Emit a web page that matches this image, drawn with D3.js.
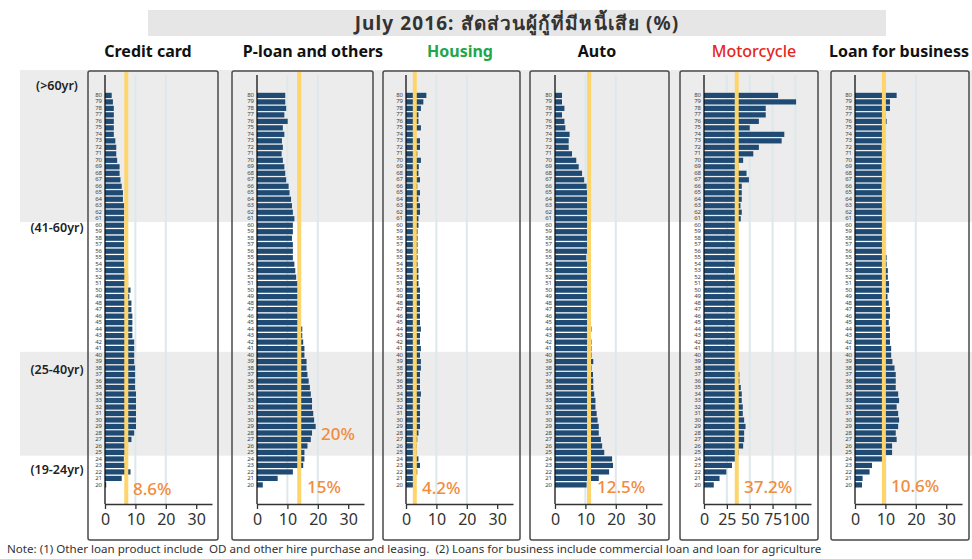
<!DOCTYPE html>
<html>
<head>
<meta charset="utf-8">
<script src="https://cdn.jsdelivr.net/npm/d3@7"></script>
<style>
  body { margin: 0; background: #fff; }
  svg { display: block; font-family: "Noto Sans", "DejaVu Sans", sans-serif; }
</style>
</head>
<body>
<svg id="visframe" width="972" height="559"></svg>
<script>
// ages from oldest (top) to youngest (bottom)
var ages = d3.range(80, 19, -1);

// % of borrowers with NPL by age (age 80 -> 20)
var creditCard = [2.2,2.6,2.9,2.9,2.9,2.9,2.9,3.4,3.7,3.7,4.0,
    4.8,4.8,5.1,5.5,5.9,5.9,6.3,6.3,6.3,6.3,
    6.3,6.3,6.3,6.3,6.3,6.3,6.6,7.6,7.6,8.4,
    8.0,8.7,8.7,9.0,9.0,9.0,9.0,9.6,9.6,9.6,
    9.6,9.9,9.9,9.9,9.9,10.2,10.2,10.2,10.2,10.2,
    10.2,9.6,8.7,6.6,6.6,6.2,6.6,8.4,5.5,0.4];
var pLoan = [9.3,9.3,9.6,9.0,10.1,8.5,9.0,8.2,8.5,8.1,8.5,
    9.0,9.3,9.6,10.4,10.7,11.2,11.5,11.8,12.3,11.8,
    11.8,11.5,11.8,11.8,11.8,12.3,12.6,12.9,13.4,13.5,
    13.5,13.5,13.5,13.5,13.5,14.9,14.9,15.2,15.6,15.6,
    16.3,16.3,16.6,17.0,17.4,17.7,18.1,18.1,18.5,18.8,
    19.3,18.1,17.7,16.6,15.6,15.6,15.2,11.8,6.8,1.9];
var housing = [6.7,5.7,4.9,4.1,4.1,4.9,3.3,4.6,4.6,3.7,4.9,
    4.2,4.1,4.6,3.7,4.6,4.1,4.6,4.6,4.1,4.1,
    3.8,3.8,3.8,3.8,3.8,3.8,4.1,4.1,4.1,4.6,
    4.6,4.6,4.6,4.6,4.6,4.9,4.6,4.6,4.9,4.6,
    4.9,4.9,4.6,4.6,4.6,4.9,4.6,4.6,4.6,4.6,
    4.6,4.1,3.7,3.5,3.5,4.1,4.6,3.7,2.8,2.4];
var auto = [2.3,2.3,3.1,2.3,3.1,3.4,4.8,4.5,4.5,5.6,7.0,
    7.8,8.9,9.6,10.4,10.7,10.7,10.7,10.7,10.7,10.7,
    10.7,10.7,10.7,10.7,10.3,10.7,10.7,10.7,10.7,10.7,
    10.7,10.7,10.7,10.7,10.7,12.0,11.6,12.0,12.0,12.0,
    12.6,12.0,12.5,12.6,12.6,12.9,13.3,13.3,13.7,14.0,
    14.4,14.4,15.1,15.5,16.2,18.8,19.1,17.8,14.4,10.4];
var motorcycle = [81.0,100.7,67.5,67.5,60.0,50.0,87.8,84.9,60.0,53.9,42.8,
    37.6,46.5,49.1,41.3,41.3,41.3,39.9,41.3,40.2,34.3,
    34.3,34.3,34.3,34.3,34.3,34.3,32.8,34.3,34.3,34.3,
    34.3,34.3,34.3,34.3,34.3,34.3,34.3,34.3,34.3,34.3,
    35.0,35.0,38.7,38.7,40.2,41.3,41.3,42.4,42.4,43.9,
    45.4,43.9,43.9,42.8,38.0,35.0,30.6,24.4,17.0,10.7];
var business = [13.7,11.5,11.5,10.0,10.4,8.9,8.9,8.9,8.7,8.9,8.9,
    8.7,8.9,8.9,8.7,8.9,8.9,8.9,8.9,8.9,9.1,
    9.1,9.1,9.1,9.1,10.4,10.4,10.8,10.8,11.2,11.2,
    10.7,11.1,11.5,11.5,11.1,11.5,11.5,11.5,11.9,11.9,
    12.3,13.0,13.4,13.4,13.4,14.2,14.5,13.7,14.2,14.5,
    14.2,13.4,13.7,12.2,12.2,9.2,5.6,4.8,2.5,2.3];

var panelTitles = ["Credit card", "P-loan and others", "Housing", "Auto", "Motorcycle", "Loan for business"];
var panelSeries = [creditCard, pLoan, housing, auto, motorcycle, business];
var avgLine = [7.0, 13.9, 2.9, 11.2, 35.8, 9.5];       // yellow average line
var annotations = [["8.6%"], ["20%", "15%"], ["4.2%"], ["12.5%"], ["37.2%"], ["10.6%"]];
var tickValues = [[0,10,20,30],[0,10,20,30],[0,10,20,30],[0,10,20,30],[0,25,50,75,100],[0,10,20,30]];
var gridValues = [[10,20],[10,20],[10,20],[10,20],[25,50,75,100],[10,20]];
var xMax = [35.2, 35.2, 35.2, 35.2, 117, 35.2];

var ageGroups = ["(>60yr)", "(41-60yr)", "(25-40yr)", "(19-24yr)"];
var groupBounds = [[80, 61], [60, 41], [40, 25], [24, 20]];

var noteText = "Note: (1) Other loan product include  OD and other hire purchase and leasing.  (2) Loans for business include commercial loan and loan for agriculture";
var titleText = "July 2016: สัดส่วนผู้กู้ที่มีหนี้เสีย (%)";

// layout
var boxLeft = [88, 232, 383, 530, 680, 831];
var boxWidth = [130, 141, 137, 139, 138, 138];
var axisOffset = [17, 25, 23, 25, 24, 24];
var headerX = [148, 313, 460, 597, 754, 899];
var axisW = 107;
var boxTop = 71, boxBottom = 540;
var axisTop = 75, axisY = 504;
var titleColors = ["#111", "#111", "#21a64a", "#111", "#e8251d", "#111"];
var titleWeights = [700, 700, 700, 700, 500, 700];
var annColor = "#f28b3c";
var annPos = [[[133, 495]], [[321, 440], [307, 493]], [[422, 494]], [[597, 493]], [[744, 493]], [[891, 492]]];

var svg = d3.select("#visframe");

var yScale = d3.scaleBand()
    .domain(ages)
    .range([92.8, 487.5])
    .paddingInner(0.2);
var step = yScale.step();

// gray age bands across the page
groupBounds.forEach(function(b, i){
    if (i % 2 == 1) return;
    var y0 = i == 0 ? 70 : yScale(b[0]) - step*0.1;
    var y1 = yScale(b[1]) + yScale.bandwidth() + step*0.1;
    svg.append("rect")
        .attr("x", 20).attr("y", y0)
        .attr("width", 952).attr("height", y1 - y0)
        .attr("fill", "#ececec");
});

var groupLabelY = [87, 229, 371, 471];
ageGroups.forEach(function(t, i){
    svg.append("text")
        .attr("x", 57).attr("y", groupLabelY[i])
        .attr("text-anchor", "middle")
        .attr("dominant-baseline", "middle")
        .attr("font-size", 12.5).attr("font-weight", 600)
        .attr("fill", "#222")
        .text(t);
});

// title
svg.append("rect")
    .attr("x", 148).attr("y", 10)
    .attr("width", 738).attr("height", 26)
    .attr("fill", "#e6e6e6");
svg.append("text")
    .attr("x", 517).attr("y", 30)
    .attr("text-anchor", "middle")
    .attr("font-size", 19).attr("font-weight", 700)
    .attr("letter-spacing", 1.1)
    .attr("fill", "#333")
    .text(titleText);

panelSeries.forEach(function(values, p){
    var x0 = boxLeft[p] + axisOffset[p];
    var xScale = d3.scaleLinear().domain([0, xMax[p]]).range([0, axisW]);

    var g = svg.append("g").attr("transform", "translate(" + x0 + ",0)");

    // panel header
    svg.append("text")
        .attr("x", headerX[p])
        .attr("y", 57)
        .attr("text-anchor", "middle")
        .attr("font-size", 16).attr("font-weight", titleWeights[p])
        .attr("fill", titleColors[p])
        .text(panelTitles[p]);

    // gridlines
    g.selectAll(".grid")
        .data(gridValues[p])
        .enter().append("line")
        .attr("x1", function(d){ return xScale(d); })
        .attr("x2", function(d){ return xScale(d); })
        .attr("y1", axisTop).attr("y2", axisY)
        .attr("stroke", "#dde8eb").attr("stroke-width", 2);

    // bars
    g.selectAll(".bar")
        .data(values)
        .enter().append("rect")
        .attr("x", 0)
        .attr("y", function(d, i){ return yScale(ages[i]); })
        .attr("width", function(d){ return xScale(d); })
        .attr("height", yScale.bandwidth())
        .attr("fill", "#1e4a73");

    // age labels
    g.selectAll(".age")
        .data(ages)
        .enter().append("text")
        .attr("x", -3)
        .attr("y", function(d){ return yScale(d) + yScale.bandwidth()/2; })
        .attr("dominant-baseline", "middle")
        .attr("text-anchor", "end")
        .attr("font-size", 6)
        .attr("fill", "#444")
        .text(function(d){ return d; });

    // yellow average line
    g.append("line")
        .attr("x1", xScale(avgLine[p])).attr("x2", xScale(avgLine[p]))
        .attr("y1", boxTop + 1).attr("y2", axisY)
        .attr("stroke", "#fdd56a").attr("stroke-width", 4);

    // y axis line
    g.append("line")
        .attr("x1", 0).attr("x2", 0)
        .attr("y1", axisTop).attr("y2", axisY)
        .attr("stroke", "#111").attr("stroke-width", 1.3);

    // x axis
    var xAxis = g.append("g")
        .attr("transform", "translate(0," + axisY + ")")
        .call(d3.axisBottom(xScale).tickValues(tickValues[p]).tickSize(5).tickSizeOuter(0).tickPadding(5));
    xAxis.select(".domain").attr("stroke", "#333").attr("stroke-width", 1.5);
    xAxis.selectAll(".tick line").attr("stroke", "#333").attr("stroke-width", 1.3);
    xAxis.selectAll(".tick text")
        .attr("font-size", 16)
        .attr("font-family", "Noto Sans, sans-serif")
        .attr("fill", "#333");

    // annotations
    annotations[p].forEach(function(t, k){
        svg.append("text")
            .attr("x", annPos[p][k][0]).attr("y", annPos[p][k][1])
            .attr("font-size", 17).attr("font-weight", 500)
            .attr("fill", annColor)
            .text(t);
    });

    // panel frame
    svg.append("rect")
        .attr("x", boxLeft[p]).attr("y", boxTop)
        .attr("width", boxWidth[p]).attr("height", boxBottom - boxTop)
        .attr("rx", 2)
        .attr("fill", "none")
        .attr("stroke", "#4a4a4a").attr("stroke-width", 1.5);
});

svg.append("text")
    .attr("x", 7).attr("y", 553)
    .attr("font-size", 11.6)
    .attr("fill", "#333")
    .style("white-space", "pre")
    .text(noteText);
</script>
</body>
</html>
